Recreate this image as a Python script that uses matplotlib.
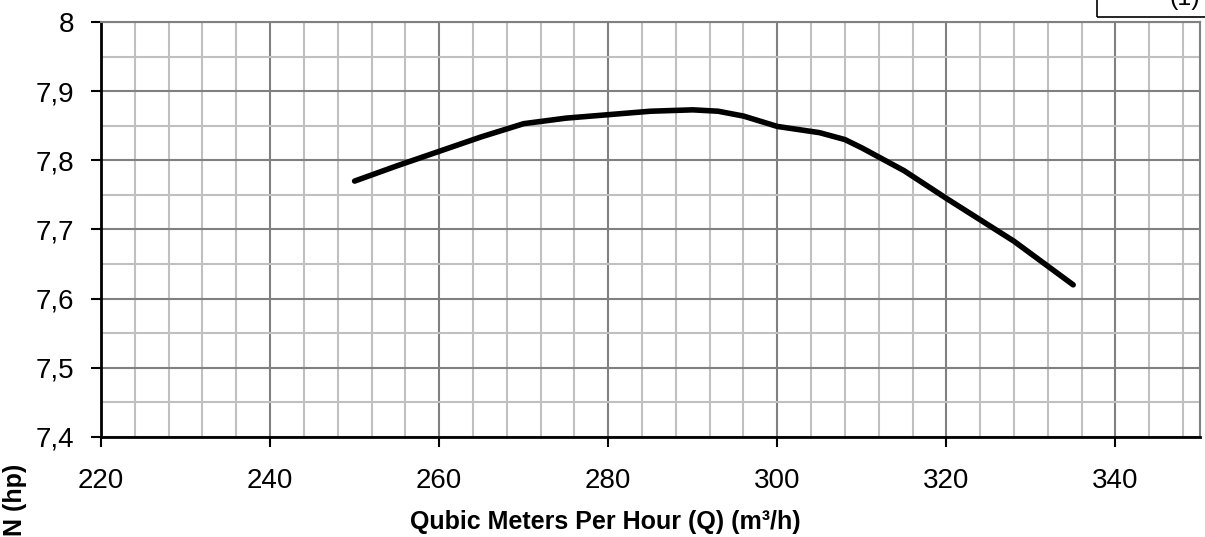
import numpy as np
import matplotlib.pyplot as plt
from matplotlib.ticker import MultipleLocator, FuncFormatter
from matplotlib.patches import Rectangle

plt.rcParams['font.family'] = ['Liberation Sans', 'DejaVu Sans']

q = [250, 255, 260, 265, 270, 275, 280, 285, 290, 293, 296, 300, 305, 308, 310, 315, 320, 328, 335]
n = [7.770, 7.792, 7.813, 7.834, 7.853, 7.861, 7.866, 7.871, 7.873, 7.871, 7.864, 7.849, 7.840, 7.830,
     7.818, 7.785, 7.745, 7.683, 7.620]

xticks = [220, 240, 260, 280, 300, 320, 340]

fig = plt.figure(figsize=(12.05, 5.37), dpi=100)
ax = fig.add_axes([101/1205, 100/537, 1099/1205, 415/537])

ax.set_xlim(220, 350)
ax.set_ylim(7.4, 8.0)
ax.set_xticks(xticks)
ax.xaxis.set_minor_locator(MultipleLocator(4))
ax.yaxis.set_major_locator(MultipleLocator(0.1))
ax.yaxis.set_minor_locator(MultipleLocator(0.05))

def comma(v, pos):
    s = "%g" % round(v, 2)
    return s.replace(".", ",")
ax.yaxis.set_major_formatter(FuncFormatter(comma))

ax.grid(which='major', color='#808080', lw=1.5)
ax.grid(which='minor', color='#c0c0c0', lw=1.5)
ax.set_axisbelow(True)

ax.plot(q, n, color='black', lw=4, solid_capstyle='round', solid_joinstyle='round')

for s in ['top', 'right']:
    ax.spines[s].set_color('#808080')
    ax.spines[s].set_linewidth(1.5)
for s in ['left', 'bottom']:
    ax.spines[s].set_color('black')
    ax.spines[s].set_linewidth(2)

ax.tick_params(which='major', direction='out', length=7, width=1.5, labelsize=20, color='black')
ax.tick_params(which='minor', length=0)
ax.tick_params(axis='x', pad=15)
ax.tick_params(axis='y', pad=12)

fig.text(605/1205, 15/537, "Qubic Meters Per Hour (Q) (m³/h)", fontsize=18, fontweight='bold',
         ha='center', va='center')
fig.text(15/1205, 37/537, "N (hp)", rotation=90, fontsize=18, fontweight='bold',
         ha='center', va='center')

# clipped box at top right
fig.patches.append(Rectangle((1097/1205, 520/537), 0.2, 0.1, transform=fig.transFigure,
                             fill=False, ec='black', lw=1.2))
fig.text(1185/1205, 527/537, "(1)", fontsize=18, ha='center', va='bottom')

fig.savefig("out.png", dpi=100)
